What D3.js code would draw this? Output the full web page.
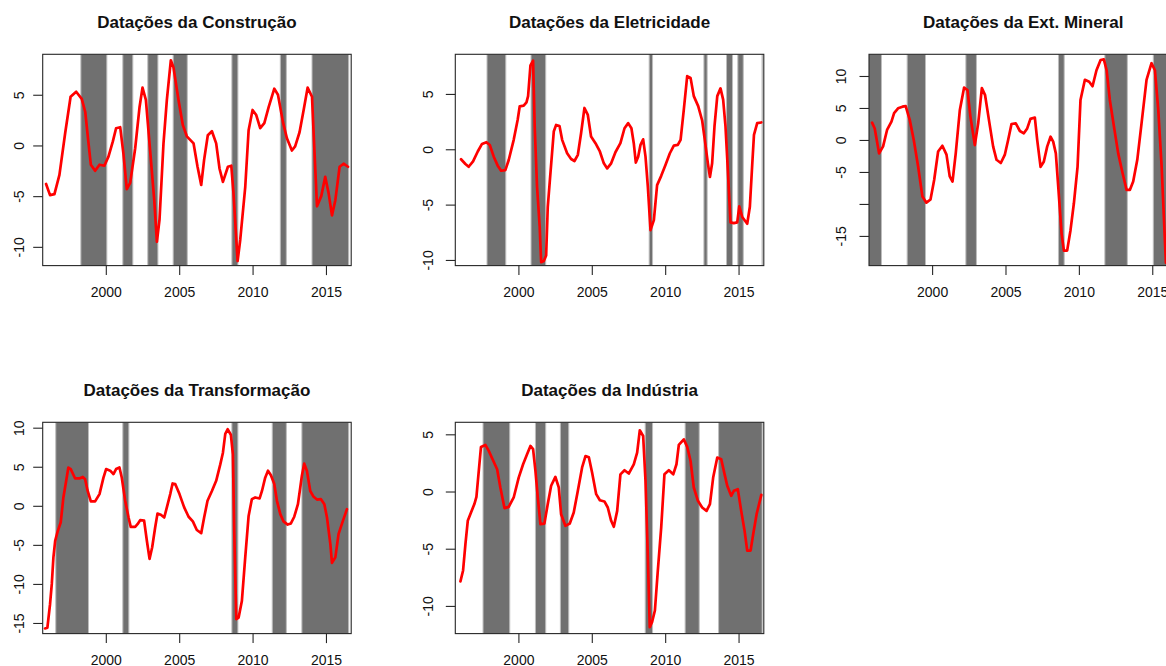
<!DOCTYPE html>
<html><head><meta charset="utf-8">
<script src="https://cdn.jsdelivr.net/npm/d3@7"></script>
<style>
body{margin:0;background:#fff;overflow:hidden;}
svg{display:block;font-family:"Liberation Sans",Arial,sans-serif;}
</style>
</head><body>
<svg id="c" width="1166" height="666"></svg>
<script>
// ---------- DATA ----------
const titles = ["Datações da Construção","Datações da Eletricidade","Datações da Ext. Mineral","Datações da Transformação","Datações da Indústria"];
const xTickValues = [2000, 2005, 2010, 2015];

const construcao = [[1995.93,-3.8],[1996.2,-4.9],[1996.5,-4.8],[1996.84,-2.9],[1997.23,1.2],[1997.6,4.8],[1997.98,5.3],[1998.36,4.6],[1998.6,3.3],[1998.8,0.5],[1998.98,-1.9],[1999.27,-2.5],[1999.57,-1.9],[1999.9,-2.0],[2000.18,-1.1],[2000.48,0.4],[2000.7,1.7],[2000.98,1.8],[2001.2,-0.8],[2001.43,-4.3],[2001.66,-3.7],[2002.0,-0.3],[2002.3,3.8],[2002.5,5.7],[2002.73,4.5],[2003.02,-0.5],[2003.3,-5.4],[2003.48,-9.5],[2003.66,-7.3],[2003.93,0.2],[2004.16,4.5],[2004.43,8.4],[2004.61,7.7],[2004.95,4.5],[2005.25,2.0],[2005.52,0.9],[2005.98,0.2],[2006.25,-2.1],[2006.5,-3.9],[2006.7,-1.4],[2006.95,1.0],[2007.23,1.4],[2007.52,0.2],[2007.75,-2.3],[2007.98,-3.6],[2008.32,-2.1],[2008.55,-2.0],[2008.7,-4.7],[2008.98,-11.4],[2009.16,-9.3],[2009.5,-4.1],[2009.73,1.5],[2010.0,3.5],[2010.25,3.0],[2010.52,1.7],[2010.8,2.2],[2011.1,3.8],[2011.48,5.6],[2011.73,5.0],[2012.07,2.3],[2012.34,0.7],[2012.68,-0.5],[2012.9,-0.1],[2013.2,1.3],[2013.48,3.5],[2013.75,5.7],[2014.05,4.8],[2014.16,1.2],[2014.39,-6.0],[2014.68,-5.0],[2014.95,-3.1],[2015.18,-4.7],[2015.41,-6.9],[2015.64,-5.4],[2015.93,-2.1],[2016.2,-1.8],[2016.5,-2.1]];
const construcaoShades = [[1998.3,2000.07],[2001.16,2001.84],[2002.86,2003.55],[2004.59,2005.55],[2008.59,2009.0],[2011.89,2012.3],[2014.05,2016.55]];

const eletricidade = [[1996.09,-0.9],[1996.39,-1.33],[1996.61,-1.58],[1996.91,-1.1],[1997.23,-0.2],[1997.52,0.48],[1997.82,0.64],[1998.05,0.39],[1998.32,-0.67],[1998.59,-1.48],[1998.82,-1.94],[1999.11,-1.88],[1999.34,-0.97],[1999.68,0.85],[1999.95,2.67],[2000.09,3.88],[2000.36,3.94],[2000.55,4.24],[2000.66,4.8],[2000.82,7.58],[2001.0,8.0],[2001.11,2.06],[2001.27,-3.4],[2001.45,-7.0],[2001.55,-10.2],[2001.73,-10.1],[2001.89,-9.6],[2002.0,-5.2],[2002.18,-2.2],[2002.41,1.6],[2002.57,2.2],[2002.8,2.1],[2002.98,0.85],[2003.32,-0.36],[2003.59,-0.88],[2003.82,-1.06],[2004.05,-0.5],[2004.27,1.45],[2004.5,3.73],[2004.73,3.1],[2004.95,1.15],[2005.25,0.55],[2005.55,-0.2],[2005.82,-1.27],[2006.05,-1.73],[2006.32,-1.27],[2006.61,-0.27],[2006.95,0.55],[2007.23,1.9],[2007.48,2.36],[2007.7,1.9],[2007.86,0.55],[2008.0,-1.2],[2008.16,-0.67],[2008.32,0.4],[2008.5,0.9],[2008.66,-0.67],[2008.82,-3.4],[2009.0,-7.3],[2009.23,-6.4],[2009.45,-3.24],[2009.73,-2.4],[2010.02,-1.42],[2010.32,-0.36],[2010.59,0.33],[2010.86,0.39],[2011.05,0.85],[2011.27,3.58],[2011.5,6.6],[2011.73,6.45],[2011.95,4.8],[2012.25,3.9],[2012.52,2.6],[2012.7,0.85],[2012.91,-1.27],[2013.05,-2.5],[2013.2,-1.27],[2013.36,2.06],[2013.55,4.8],[2013.77,5.5],[2013.95,4.48],[2014.11,2.06],[2014.27,-1.88],[2014.45,-6.6],[2014.68,-6.67],[2014.91,-6.6],[2015.05,-5.15],[2015.25,-6.12],[2015.59,-6.73],[2015.77,-5.2],[2015.93,-1.42],[2016.05,1.3],[2016.27,2.36],[2016.55,2.42]];
const eletricidadeShades = [[1997.86,1999.14],[2000.86,2001.86],[2008.91,2009.14],[2012.64,2012.86],[2014.18,2014.59],[2014.95,2015.32],[2016.6,2016.64]];

const extMineral = [[1995.91,2.7],[1996.09,1.8],[1996.39,-2.1],[1996.66,-1.0],[1996.93,1.56],[1997.23,2.86],[1997.41,4.2],[1997.68,4.95],[1997.98,5.2],[1998.2,5.3],[1998.48,3.1],[1998.75,0.0],[1999.05,-4.2],[1999.34,-8.85],[1999.61,-9.8],[1999.89,-9.3],[2000.14,-6.25],[2000.41,-1.8],[2000.7,-0.9],[2000.98,-2.3],[2001.2,-5.7],[2001.39,-6.5],[2001.61,-2.1],[2001.89,4.7],[2002.18,8.2],[2002.41,7.8],[2002.61,3.65],[2002.91,-0.8],[2003.14,2.6],[2003.39,8.1],[2003.61,7.0],[2003.89,2.86],[2004.16,-1.04],[2004.39,-3.1],[2004.68,-3.6],[2004.95,-2.34],[2005.18,0.0],[2005.41,2.5],[2005.7,2.6],[2005.98,1.4],[2006.25,1.04],[2006.48,1.8],[2006.7,3.3],[2007.0,3.5],[2007.16,0.0],[2007.39,-4.2],[2007.61,-3.4],[2007.84,-1.04],[2008.07,0.5],[2008.25,-0.26],[2008.43,-2.1],[2008.61,-7.8],[2008.82,-14.6],[2008.98,-17.3],[2009.2,-17.3],[2009.43,-14.1],[2009.66,-9.9],[2009.91,-4.2],[2010.11,6.25],[2010.41,9.4],[2010.7,9.1],[2010.93,8.4],[2011.2,10.9],[2011.48,12.5],[2011.7,12.6],[2011.89,10.9],[2012.11,6.25],[2012.39,2.1],[2012.68,-2.1],[2012.98,-5.2],[2013.25,-7.8],[2013.48,-7.8],[2013.7,-6.5],[2013.98,-3.1],[2014.27,2.6],[2014.61,9.4],[2014.95,12.0],[2015.18,10.9],[2015.41,4.7],[2015.64,-4.2],[2015.93,-19.2],[2016.2,-18.0],[2016.5,-15.0]];
const extMineralShades = [[1995.5,1996.55],[1998.3,1999.55],[2002.3,2003.02],[2008.61,2009.0],[2011.77,2013.3],[2015.07,2016.55]];

const transformacao = [[1995.86,-15.7],[1996.02,-15.6],[1996.2,-12.6],[1996.32,-10.0],[1996.43,-6.6],[1996.55,-4.5],[1996.7,-3.4],[1996.93,-2.1],[1997.11,1.07],[1997.3,3.2],[1997.45,4.9],[1997.61,4.7],[1997.91,3.5],[1998.2,3.5],[1998.43,3.7],[1998.59,3.4],[1998.75,2.0],[1998.98,0.56],[1999.27,0.56],[1999.57,1.5],[1999.84,3.6],[2000.02,4.7],[2000.3,4.5],[2000.52,4.06],[2000.7,4.7],[2000.93,4.9],[2001.09,3.6],[2001.32,0.64],[2001.55,-1.5],[2001.7,-2.7],[2002.0,-2.7],[2002.16,-2.35],[2002.34,-1.84],[2002.61,-1.9],[2002.8,-4.5],[2002.98,-6.8],[2003.16,-5.3],[2003.36,-2.8],[2003.52,-1.0],[2003.75,-1.15],[2003.98,-1.5],[2004.16,-0.2],[2004.39,1.5],[2004.55,2.86],[2004.73,2.78],[2005.02,1.5],[2005.34,-0.2],[2005.64,-1.4],[2005.93,-2.0],[2006.2,-3.1],[2006.5,-3.5],[2006.7,-1.5],[2006.93,0.64],[2007.23,1.9],[2007.52,3.2],[2007.8,5.3],[2007.98,6.8],[2008.14,9.2],[2008.3,9.8],[2008.52,9.1],[2008.66,6.6],[2008.75,-3.2],[2008.89,-14.5],[2009.05,-14.3],[2009.27,-12.2],[2009.5,-6.6],[2009.73,-1.3],[2009.95,0.85],[2010.18,1.07],[2010.48,0.94],[2010.64,1.9],[2010.86,3.6],[2011.05,4.5],[2011.25,3.9],[2011.48,2.78],[2011.66,0.64],[2011.89,-1.07],[2012.11,-2.0],[2012.39,-2.4],[2012.61,-2.26],[2012.84,-1.4],[2013.09,0.2],[2013.25,2.35],[2013.36,3.85],[2013.52,5.4],[2013.7,4.5],[2013.93,1.9],[2014.16,1.15],[2014.39,0.8],[2014.66,0.85],[2014.89,0.2],[2015.07,-1.5],[2015.3,-4.9],[2015.41,-7.3],[2015.64,-6.6],[2015.86,-3.6],[2016.16,-1.9],[2016.43,-0.43]];
const transformacaoShades = [[1996.59,1998.82],[2001.16,2001.57],[2008.59,2009.0],[2011.34,2012.3],[2013.36,2016.55]];

const industria = [[1996.05,-7.85],[1996.23,-6.9],[1996.39,-4.6],[1996.55,-2.56],[1996.77,-1.83],[1997.0,-1.1],[1997.14,-0.47],[1997.3,1.8],[1997.45,3.9],[1997.75,4.07],[1997.98,3.55],[1998.27,2.73],[1998.55,1.95],[1998.77,0.35],[1999.05,-1.45],[1999.34,-1.34],[1999.68,-0.52],[2000.02,1.22],[2000.32,2.38],[2000.59,3.26],[2000.82,3.98],[2001.0,3.7],[2001.16,1.8],[2001.32,-0.52],[2001.5,-2.85],[2001.77,-2.8],[2002.0,-1.1],[2002.23,0.5],[2002.52,1.28],[2002.75,0.35],[2002.91,-1.98],[2003.2,-3.0],[2003.5,-2.8],[2003.77,-1.83],[2004.05,0.06],[2004.34,2.1],[2004.57,3.1],[2004.8,3.0],[2005.02,1.66],[2005.3,-0.23],[2005.55,-0.76],[2005.86,-0.87],[2006.09,-1.4],[2006.32,-2.56],[2006.5,-3.08],[2006.73,-1.69],[2006.95,1.5],[2007.23,1.86],[2007.52,1.57],[2007.86,2.38],[2008.09,3.4],[2008.27,5.35],[2008.5,4.85],[2008.66,0.93],[2008.82,-5.76],[2008.95,-11.86],[2009.11,-11.4],[2009.3,-10.4],[2009.5,-6.9],[2009.73,-3.14],[2009.95,1.5],[2010.25,1.86],[2010.55,1.5],[2010.77,2.38],[2010.93,4.07],[2011.27,4.56],[2011.5,3.9],[2011.73,2.67],[2011.95,0.35],[2012.23,-0.81],[2012.52,-1.4],[2012.82,-1.69],[2013.05,-1.1],[2013.27,1.22],[2013.55,2.97],[2013.82,2.82],[2014.05,1.5],[2014.23,0.5],[2014.5,-0.38],[2014.68,0.06],[2014.95,0.2],[2015.18,-1.69],[2015.41,-3.43],[2015.59,-5.17],[2015.82,-5.17],[2016.0,-3.72],[2016.23,-1.98],[2016.55,-0.29]];
const industriaShades = [[1997.59,1999.41],[2001.16,2001.86],[2002.86,2003.43],[2008.64,2009.14],[2011.36,2012.32],[2013.64,2016.61]];

const yTicks1 = [-10,-5,0,5];
const yTicks2 = [-10,-5,0,5];
const yTicks3 = [-15,-10,-5,0,5,10];
const yTicks4 = [-15,-10,-5,0,5,10];
const yTicks5 = [-10,-5,0,5];
const hiddenLabels3 = [-10];

// ---------- LAYOUT ----------
const colLeft = [42.7, 455.3, 869];
const rowTop = [54.3, 422.3];
const plotW = 308.5, plotH = 211.3;
const xLim = [1995.7, 2016.72];
const labelGap = [19, 22.5, 23.5];

const panels = [
  {title: titles[0], data: construcao, shades: construcaoShades, yLim: [-11.85, 8.99], yTicks: yTicks1, hide: [], col: 0, row: 0},
  {title: titles[1], data: eletricidade, shades: eletricidadeShades, yLim: [-10.51, 8.58], yTicks: yTicks2, hide: [], col: 1, row: 0},
  {title: titles[2], data: extMineral, shades: extMineralShades, yLim: [-19.64, 13.39], yTicks: yTicks3, hide: hiddenLabels3, col: 2, row: 0},
  {title: titles[3], data: transformacao, shades: transformacaoShades, yLim: [-16.36, 10.69], yTicks: yTicks4, hide: [], col: 0, row: 1},
  {title: titles[4], data: industria, shades: industriaShades, yLim: [-12.42, 6.05], yTicks: yTicks5, hide: [], col: 1, row: 1}
];

const svg = d3.select("#c");
svg.append("rect").attr("width",1166).attr("height",666).attr("fill","#fff");

panels.forEach((p, i) => {
  const g = svg.append("g").attr("transform", `translate(${colLeft[p.col]},${rowTop[p.row]})`);
  const x = d3.scaleLinear().domain(xLim).range([0, plotW]);
  const y = d3.scaleLinear().domain(p.yLim).range([plotH, 0]);

  const clipId = "clip" + i;
  g.append("clipPath").attr("id", clipId).append("rect")
    .attr("x", 0).attr("y", 0).attr("width", plotW).attr("height", plotH);

  const inner = g.append("g").attr("clip-path", `url(#${clipId})`);
  inner.selectAll("rect.shade").data(p.shades).enter().append("rect")
    .attr("class","shade")
    .attr("x", d => x(d[0]))
    .attr("width", d => Math.max(0, x(d[1]) - x(d[0])))
    .attr("y", 0).attr("height", plotH)
    .attr("fill", "#707070")
    .attr("stroke", "#bdbdbd").attr("stroke-width", 1);

  const line = d3.line().x(d => x(d[0])).y(d => y(d[1]));
  inner.append("path").datum(p.data)
    .attr("d", line)
    .attr("fill", "none")
    .attr("stroke", "#ff0000")
    .attr("stroke-width", 2.7)
    .attr("stroke-linejoin", "round")
    .attr("stroke-linecap", "round");

  // box
  g.append("rect").attr("x", 0).attr("y", 0).attr("width", plotW).attr("height", plotH)
    .attr("fill", "none").attr("stroke", "#262626").attr("stroke-width", 1.1);

  // x axis
  const xa = g.append("g").attr("transform", `translate(0,${plotH})`)
    .style("color", "#262626")
    .call(d3.axisBottom(x).tickValues(xTickValues).tickSize(9.5).tickFormat(d => String(d)));
  xa.select(".domain").remove();
  xa.selectAll("line").attr("stroke-width", 1.1);
  xa.selectAll("text").attr("y", 31.5).attr("dy", null)
    .attr("font-size", 14).attr("font-family", "Liberation Sans, Arial, sans-serif").attr("fill", "#111");

  // y axis
  const ya = g.append("g")
    .style("color", "#262626")
    .call(d3.axisLeft(y).tickValues(p.yTicks).tickSize(9.5).tickFormat(d => p.hide.includes(d) ? "" : String(d)));
  ya.select(".domain").remove();
  ya.selectAll("line").attr("stroke-width", 1.1);
  ya.selectAll("text")
    .attr("x", 0).attr("dy", null)
    .attr("transform", `translate(${-labelGap[p.col]},0) rotate(-90)`)
    .attr("text-anchor", "middle")
    .attr("font-size", 14).attr("font-family", "Liberation Sans, Arial, sans-serif").attr("fill", "#111");

  // title
  g.append("text")
    .attr("x", plotW / 2).attr("y", -26.5)
    .attr("text-anchor", "middle")
    .attr("font-size", 17).attr("font-weight", "bold")
    .attr("fill", "#111")
    .text(p.title);
});
</script>
</body></html>
